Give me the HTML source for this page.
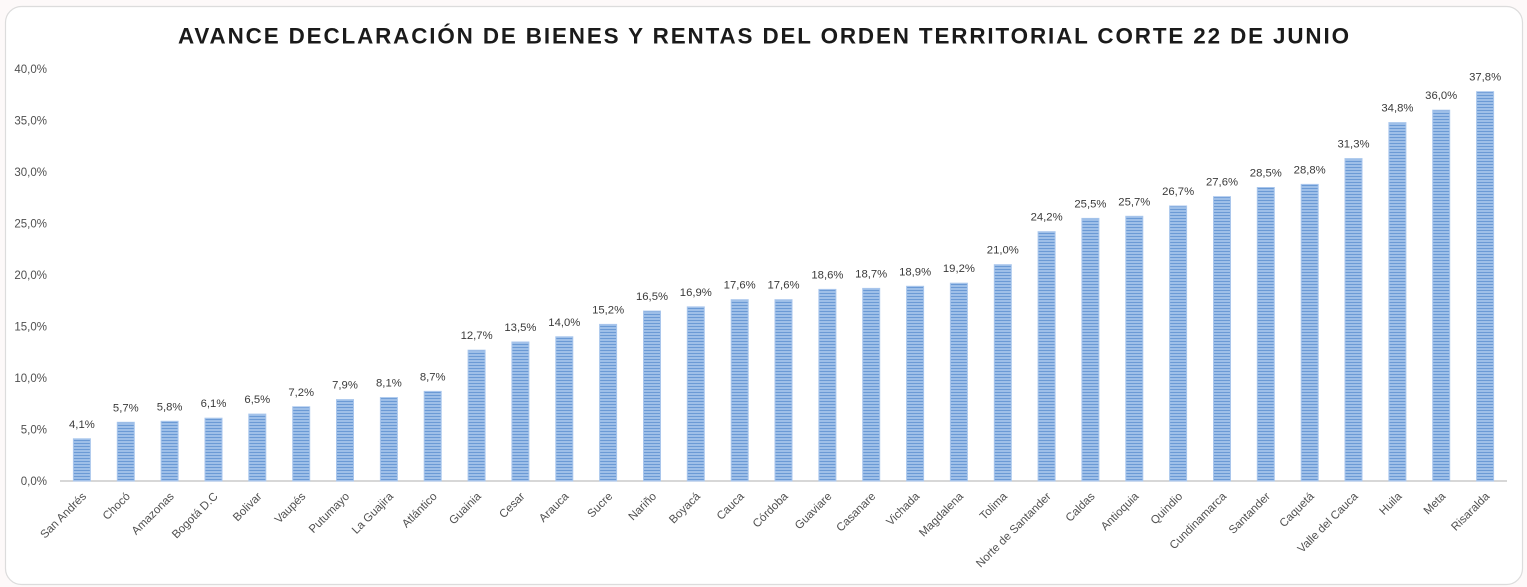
<!DOCTYPE html>
<html><head><meta charset="utf-8"><style>
html,body{margin:0;padding:0;background:#fdf9f9;}
svg{display:block;}
rect.b{fill:url(#st);stroke:#a9c6ec;stroke-width:1;}
text.v{font-size:11.3px;fill:#3a3a3a;text-anchor:middle;}
text.c{font-size:11.5px;fill:#505050;text-anchor:end;}
</style></head><body>
<svg width="1527" height="587" viewBox="0 0 1527 587" xmlns="http://www.w3.org/2000/svg" font-family="'Liberation Sans', sans-serif">
<defs>
<pattern id="st" x="0" y="0" width="20" height="3" patternUnits="userSpaceOnUse">
<rect width="20" height="3" fill="#9ebfe8"/>
<rect y="2" width="20" height="1" fill="#6b9ad5"/>
</pattern>
</defs>
<rect x="5.5" y="6.5" width="1517" height="578" rx="16" fill="#ffffff" stroke="#dcdcdc" stroke-width="1.2"/>
<text x="178" y="43.3" font-size="22.4" font-weight="bold" fill="#1a1a1a" textLength="1171" lengthAdjust="spacing">AVANCE DECLARACIÓN DE BIENES Y RENTAS DEL ORDEN TERRITORIAL CORTE 22 DE JUNIO</text>
<g font-size="11.5" fill="#505050" text-anchor="end">
<text x="47" y="485">0,0%</text>
<text x="47" y="433.5">5,0%</text>
<text x="47" y="382">10,0%</text>
<text x="47" y="330.5">15,0%</text>
<text x="47" y="279">20,0%</text>
<text x="47" y="227.5">25,0%</text>
<text x="47" y="176">30,0%</text>
<text x="47" y="124.5">35,0%</text>
<text x="47" y="73">40,0%</text>
</g>
<line x1="60" y1="481" x2="1507" y2="481" stroke="#bfbfbf" stroke-width="1.3"/>

<g transform="translate(81.9,0)"><rect class="b" x="-8.5" y="438.8" width="17" height="42.2"/><text class="v" x="0" y="427.8">4,1%</text><text class="c" transform="translate(5,497) rotate(-45)">San Andrés</text></g>
<g transform="translate(125.8,0)"><rect class="b" x="-8.5" y="422.3" width="17" height="58.7"/><text class="v" x="0" y="411.3">5,7%</text><text class="c" transform="translate(5,497) rotate(-45)">Chocó</text></g>
<g transform="translate(169.6,0)"><rect class="b" x="-8.5" y="421.3" width="17" height="59.7"/><text class="v" x="0" y="410.3">5,8%</text><text class="c" transform="translate(5,497) rotate(-45)">Amazonas</text></g>
<g transform="translate(213.5,0)"><rect class="b" x="-8.5" y="418.2" width="17" height="62.8"/><text class="v" x="0" y="407.2">6,1%</text><text class="c" transform="translate(5,497) rotate(-45)">Bogotá D.C</text></g>
<g transform="translate(257.3,0)"><rect class="b" x="-8.5" y="414.1" width="17" height="66.9"/><text class="v" x="0" y="403.1">6,5%</text><text class="c" transform="translate(5,497) rotate(-45)">Bolivar</text></g>
<g transform="translate(301.2,0)"><rect class="b" x="-8.5" y="406.8" width="17" height="74.2"/><text class="v" x="0" y="395.8">7,2%</text><text class="c" transform="translate(5,497) rotate(-45)">Vaupés</text></g>
<g transform="translate(345.0,0)"><rect class="b" x="-8.5" y="399.6" width="17" height="81.4"/><text class="v" x="0" y="388.6">7,9%</text><text class="c" transform="translate(5,497) rotate(-45)">Putumayo</text></g>
<g transform="translate(388.9,0)"><rect class="b" x="-8.5" y="397.6" width="17" height="83.4"/><text class="v" x="0" y="386.6">8,1%</text><text class="c" transform="translate(5,497) rotate(-45)">La Guajira</text></g>
<g transform="translate(432.7,0)"><rect class="b" x="-8.5" y="391.4" width="17" height="89.6"/><text class="v" x="0" y="380.4">8,7%</text><text class="c" transform="translate(5,497) rotate(-45)">Atlántico</text></g>
<g transform="translate(476.6,0)"><rect class="b" x="-8.5" y="350.2" width="17" height="130.8"/><text class="v" x="0" y="339.2">12,7%</text><text class="c" transform="translate(5,497) rotate(-45)">Guainia</text></g>
<g transform="translate(520.4,0)"><rect class="b" x="-8.5" y="342.0" width="17" height="139.0"/><text class="v" x="0" y="331.0">13,5%</text><text class="c" transform="translate(5,497) rotate(-45)">Cesar</text></g>
<g transform="translate(564.3,0)"><rect class="b" x="-8.5" y="336.8" width="17" height="144.2"/><text class="v" x="0" y="325.8">14,0%</text><text class="c" transform="translate(5,497) rotate(-45)">Arauca</text></g>
<g transform="translate(608.1,0)"><rect class="b" x="-8.5" y="324.4" width="17" height="156.6"/><text class="v" x="0" y="313.4">15,2%</text><text class="c" transform="translate(5,497) rotate(-45)">Sucre</text></g>
<g transform="translate(652.0,0)"><rect class="b" x="-8.5" y="311.1" width="17" height="169.9"/><text class="v" x="0" y="300.1">16,5%</text><text class="c" transform="translate(5,497) rotate(-45)">Nariño</text></g>
<g transform="translate(695.8,0)"><rect class="b" x="-8.5" y="306.9" width="17" height="174.1"/><text class="v" x="0" y="295.9">16,9%</text><text class="c" transform="translate(5,497) rotate(-45)">Boyacá</text></g>
<g transform="translate(739.7,0)"><rect class="b" x="-8.5" y="299.7" width="17" height="181.3"/><text class="v" x="0" y="288.7">17,6%</text><text class="c" transform="translate(5,497) rotate(-45)">Cauca</text></g>
<g transform="translate(783.5,0)"><rect class="b" x="-8.5" y="299.7" width="17" height="181.3"/><text class="v" x="0" y="288.7">17,6%</text><text class="c" transform="translate(5,497) rotate(-45)">Córdoba</text></g>
<g transform="translate(827.4,0)"><rect class="b" x="-8.5" y="289.4" width="17" height="191.6"/><text class="v" x="0" y="278.4">18,6%</text><text class="c" transform="translate(5,497) rotate(-45)">Guaviare</text></g>
<g transform="translate(871.2,0)"><rect class="b" x="-8.5" y="288.4" width="17" height="192.6"/><text class="v" x="0" y="277.4">18,7%</text><text class="c" transform="translate(5,497) rotate(-45)">Casanare</text></g>
<g transform="translate(915.1,0)"><rect class="b" x="-8.5" y="286.3" width="17" height="194.7"/><text class="v" x="0" y="275.3">18,9%</text><text class="c" transform="translate(5,497) rotate(-45)">Vichada</text></g>
<g transform="translate(958.9,0)"><rect class="b" x="-8.5" y="283.2" width="17" height="197.8"/><text class="v" x="0" y="272.2">19,2%</text><text class="c" transform="translate(5,497) rotate(-45)">Magdalena</text></g>
<g transform="translate(1002.8,0)"><rect class="b" x="-8.5" y="264.7" width="17" height="216.3"/><text class="v" x="0" y="253.7">21,0%</text><text class="c" transform="translate(5,497) rotate(-45)">Tolima</text></g>
<g transform="translate(1046.6,0)"><rect class="b" x="-8.5" y="231.7" width="17" height="249.3"/><text class="v" x="0" y="220.7">24,2%</text><text class="c" transform="translate(5,497) rotate(-45)">Norte de Santander</text></g>
<g transform="translate(1090.4,0)"><rect class="b" x="-8.5" y="218.4" width="17" height="262.6"/><text class="v" x="0" y="207.4">25,5%</text><text class="c" transform="translate(5,497) rotate(-45)">Caldas</text></g>
<g transform="translate(1134.3,0)"><rect class="b" x="-8.5" y="216.3" width="17" height="264.7"/><text class="v" x="0" y="205.3">25,7%</text><text class="c" transform="translate(5,497) rotate(-45)">Antioquia</text></g>
<g transform="translate(1178.1,0)"><rect class="b" x="-8.5" y="206.0" width="17" height="275.0"/><text class="v" x="0" y="195.0">26,7%</text><text class="c" transform="translate(5,497) rotate(-45)">Quindio</text></g>
<g transform="translate(1222.0,0)"><rect class="b" x="-8.5" y="196.7" width="17" height="284.3"/><text class="v" x="0" y="185.7">27,6%</text><text class="c" transform="translate(5,497) rotate(-45)">Cundinamarca</text></g>
<g transform="translate(1265.8,0)"><rect class="b" x="-8.5" y="187.5" width="17" height="293.5"/><text class="v" x="0" y="176.5">28,5%</text><text class="c" transform="translate(5,497) rotate(-45)">Santander</text></g>
<g transform="translate(1309.7,0)"><rect class="b" x="-8.5" y="184.4" width="17" height="296.6"/><text class="v" x="0" y="173.4">28,8%</text><text class="c" transform="translate(5,497) rotate(-45)">Caquetá</text></g>
<g transform="translate(1353.5,0)"><rect class="b" x="-8.5" y="158.6" width="17" height="322.4"/><text class="v" x="0" y="147.6">31,3%</text><text class="c" transform="translate(5,497) rotate(-45)">Valle del Cauca</text></g>
<g transform="translate(1397.4,0)"><rect class="b" x="-8.5" y="122.6" width="17" height="358.4"/><text class="v" x="0" y="111.6">34,8%</text><text class="c" transform="translate(5,497) rotate(-45)">Huila</text></g>
<g transform="translate(1441.2,0)"><rect class="b" x="-8.5" y="110.2" width="17" height="370.8"/><text class="v" x="0" y="99.2">36,0%</text><text class="c" transform="translate(5,497) rotate(-45)">Meta</text></g>
<g transform="translate(1485.1,0)"><rect class="b" x="-8.5" y="91.7" width="17" height="389.3"/><text class="v" x="0" y="80.7">37,8%</text><text class="c" transform="translate(5,497) rotate(-45)">Risaralda</text></g>
</svg>
</body></html>
